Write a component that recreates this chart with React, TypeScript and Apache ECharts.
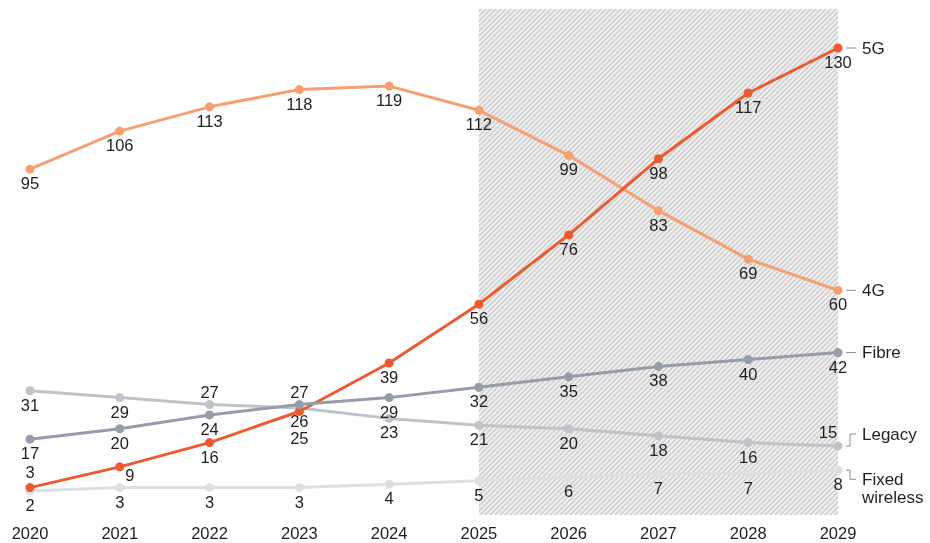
import React, { useEffect, useRef } from "react";
import * as echarts from "echarts";

// Years on the horizontal axis
const years = ["2020", "2021", "2022", "2023", "2024", "2025", "2026", "2027", "2028", "2029"];
const forecastStart = "2025";
const forecastEnd = "2029";

// Connections per technology (millions)
const values4G = [95, 106, 113, 118, 119, 112, 99, 83, 69, 60];
const values5G = [3, 9, 16, 25, 39, 56, 76, 98, 117, 130];
const valuesFibre = [17, 20, 24, 27, 29, 32, 35, 38, 40, 42];
const valuesLegacy = [31, 29, 27, 26, 23, 21, 20, 18, 16, 15];
const valuesFixedWireless = [2, 3, 3, 3, 4, 5, 6, 7, 7, 8];

const FONT = '"Liberation Sans", Arial, Helvetica, sans-serif';
const TEXT = "#1f1f1f";

type Tweak = { position?: "top" | "bottom"; distance?: number; offset?: number[] };

// Per-point label adjustments where lines cross
const labelTweaks: Record<string, Record<number, Tweak>> = {
  "5G": { 0: { position: "top", distance: 3 }, 1: { offset: [10, -6] }, 3: { distance: 14 } },
  Fibre: { 3: { position: "top", distance: 0 } },
  Legacy: { 2: { position: "top", distance: 0 }, 3: { distance: 0 }, 9: { position: "top", offset: [-10, 0] } },
};

type SeriesDef = {
  name: string;
  label: string;
  values: number[];
  color: string;
  z: number;
  connector: "straight" | "up" | "down";
};

const seriesDefs: SeriesDef[] = [
  { name: "Fixed wireless", label: "Fixed\nwireless", values: valuesFixedWireless, color: "#DCE0E4", z: 2, connector: "down" },
  { name: "Legacy", label: "Legacy", values: valuesLegacy, color: "#BEC3C9", z: 3, connector: "up" },
  { name: "4G", label: "4G", values: values4G, color: "#F6A072", z: 4, connector: "straight" },
  { name: "5G", label: "5G", values: values5G, color: "#EC5A30", z: 5, connector: "straight" },
  { name: "Fibre", label: "Fibre", values: valuesFibre, color: "#959CAA", z: 6, connector: "straight" },
];

// Small repeating tile of diagonal stripes for the forecast band
function makeHatchTile(): HTMLCanvasElement {
  const s = 5;
  const c = document.createElement("canvas");
  c.width = s;
  c.height = s;
  const ctx = c.getContext("2d")!;
  ctx.fillStyle = "#f3f3f3";
  ctx.fillRect(0, 0, s, s);
  ctx.strokeStyle = "#d0d0d0";
  ctx.lineWidth = 1.8;
  ctx.beginPath();
  ctx.moveTo(-1, 1);
  ctx.lineTo(1, -1);
  ctx.moveTo(0, s);
  ctx.lineTo(s, 0);
  ctx.moveTo(s - 1, s + 1);
  ctx.lineTo(s + 1, s - 1);
  ctx.stroke();
  return c;
}

export default function App() {
  const ref = useRef<HTMLDivElement>(null);

  useEffect(() => {
    if (!ref.current) return;
    const chart = echarts.init(ref.current, null, { renderer: "svg" });
    const tile = makeHatchTile();

    const lineSeries = seriesDefs.map((d) => ({
      name: d.name,
      type: "line",
      z: d.z,
      data: d.values.map((v, i) => {
        const t = labelTweaks[d.name]?.[i];
        return t ? { value: v, label: { ...t } } : v;
      }),
      symbol: "circle",
      symbolSize: 9,
      lineStyle: { color: d.color, width: 3 },
      itemStyle: { color: d.color },
      label: {
        show: true,
        position: "bottom",
        distance: 1,
        color: TEXT,
        fontSize: 16.5,
        fontFamily: FONT,
      },
      emphasis: { disabled: true },
    }));

    chart.setOption({
      animation: false,
      grid: { left: 30, right: 92, top: 48, bottom: 45 },
      xAxis: {
        type: "category",
        data: years,
        boundaryGap: false,
        axisLine: { show: false },
        axisTick: { show: false },
        splitLine: { show: false },
        axisLabel: { color: TEXT, fontSize: 16.5, fontFamily: FONT, margin: 26 },
      },
      yAxis: { type: "value", min: 0, max: 130, show: false, splitLine: { show: false } },
      series: [
        {
          name: "forecast",
          type: "line",
          data: [],
          clip: false,
          z: 1,
          silent: true,
          markArea: {
            silent: true,
            itemStyle: {
              color: { image: tile, repeat: "repeat", imageWidth: tile.width, imageHeight: tile.height },
            },
            data: [[{ xAxis: forecastStart, y: 9 }, { xAxis: forecastEnd, y: 515 }]],
          },
        },
        ...lineSeries,
      ],
    });

    // End-of-line names with leader lines
    const graphics: any[] = [];
    const last = years.length - 1;
    seriesDefs.forEach((d) => {
      const [x, y] = chart.convertToPixel({ xAxisIndex: 0, yAxisIndex: 0 }, [last, d.values[last]]) as number[];
      const x0 = x + 8;
      const xm = x + 12;
      const x1 = x + 18;
      let ty = y;
      let pts: number[][];
      if (d.connector === "up") {
        ty = y - 12;
        pts = [[x0, y], [xm, y], [xm, ty], [x1, ty]];
      } else if (d.connector === "down") {
        ty = y + 9;
        pts = [[x0, y], [xm, y], [xm, ty], [x1, ty]];
      } else {
        pts = [[x0, y], [x1, y]];
      }
      graphics.push({
        type: "polyline",
        silent: true,
        shape: { points: pts },
        style: { stroke: "#8c8c8c", lineWidth: 1, fill: null },
      });
      if (d.connector === "down") {
        graphics.push({
          type: "text",
          silent: true,
          x: x + 24,
          y: ty - 9,
          style: { text: d.label, fill: TEXT, font: `17px ${FONT}`, align: "left", verticalAlign: "top", lineHeight: 18 },
        });
      } else {
        graphics.push({
          type: "text",
          silent: true,
          x: x + 24,
          y: ty,
          style: { text: d.label, fill: TEXT, font: `17px ${FONT}`, align: "left", verticalAlign: "middle" },
        });
      }
    });

    const [fx] = chart.convertToPixel({ xAxisIndex: 0, yAxisIndex: 0 }, [years.indexOf(forecastStart), 0]) as number[];
    graphics.push({
      type: "text",
      silent: true,
      x: fx + 8,
      y: 23,
      style: { text: "Forecast", fill: TEXT, font: `14px ${FONT}`, align: "left", verticalAlign: "middle" },
    });

    chart.setOption({ graphic: graphics });

    return () => chart.dispose();
  }, []);

  return <div ref={ref} style={{ position: "fixed", left: 0, top: 0, width: 930, height: 543 }} />;
}
